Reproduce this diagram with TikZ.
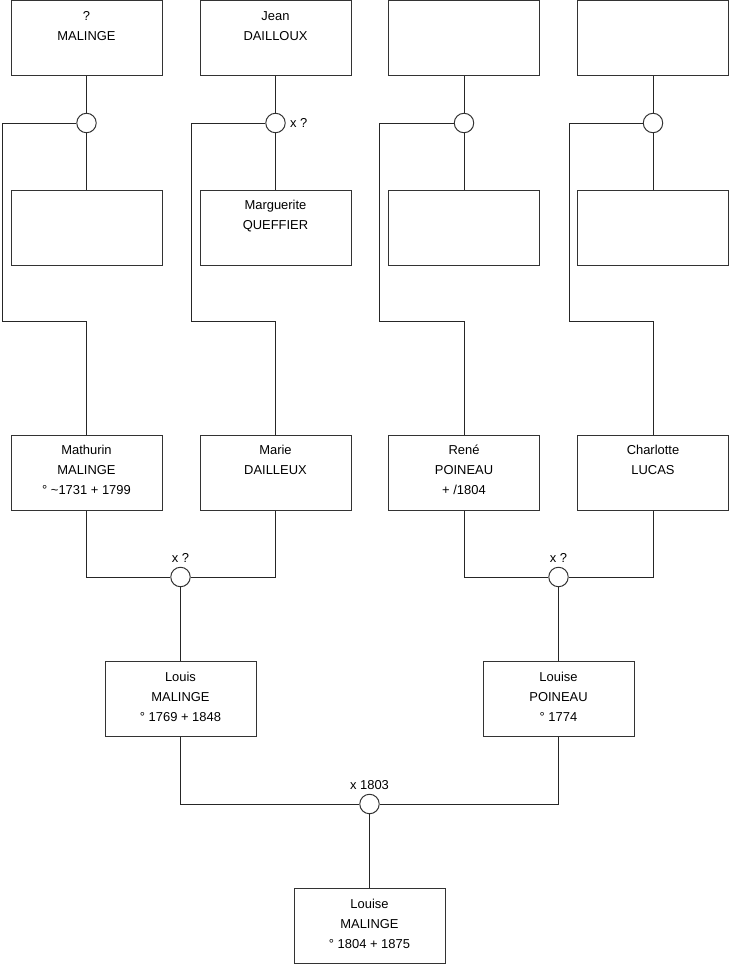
\documentclass[tikz,border=0pt]{standalone}
\usepackage{fontspec}
\setmainfont{Liberation Sans}
\usetikzlibrary{positioning}
\newcommand{\who}[3]{#1\strut\\#2\strut\\#3\rule[-7pt]{0pt}{7pt}}
\tikzset{
  pers/.style={draw=black!80, line width=0.75pt, minimum width=113.25pt,
               minimum height=56.25pt, inner sep=0pt, align=center,
               font=\fontsize{9.7}{15}\selectfont},
  wed/.style={draw=black!80, circle, fill=white, minimum size=14.6pt,
              inner sep=0pt, line width=0.75pt},
  wednote/.style={font=\fontsize{9.7}{11}\selectfont, inner sep=1pt},
  link/.style={line width=0.75pt, black!85}
}

\begin{document}
\begin{tikzpicture}[x=0.75pt, y=-0.75pt]
\useasboundingbox (0,0) rectangle (740,975);
\node[pers] (malinge) at (86.5,38) {\who{?}{MALINGE}{}};
\node[pers] (jean) at (275.5,38) {\who{Jean}{DAILLOUX}{}};
\node[pers] (top3) at (464,38) {};
\node[pers] (top4) at (653,38) {};
\node[wed] (m1) at (86.5,123) {};
\node[wed] (m2) at (275.5,123) {};
\node[wed] (m3) at (464,123) {};
\node[wed] (m4) at (653,123) {};
\node[wednote, right=2pt of m2] (n2) {x ?};
\node[pers] (unk1) at (86.5,227.5) {};
\node[pers] (marguerite) at (275.5,227.5) {\who{Marguerite}{QUEFFIER}{}};
\node[pers] (unk3) at (464,227.5) {};
\node[pers] (unk4) at (653,227.5) {};
\coordinate (k1) at (2,321);
\coordinate (k2) at (191,321);
\coordinate (k3) at (379,321);
\coordinate (k4) at (569,321);
\node[pers] (mathurin) at (86.5,472.5) {\who{Mathurin}{MALINGE}{° \textasciitilde1731 + 1799}};
\node[pers] (marie) at (275.5,472.5) {\who{Marie}{DAILLEUX}{}};
\node[pers] (rene) at (464,472.5) {\who{René}{POINEAU}{+ /1804}};
\node[pers] (charlotte) at (653,472.5) {\who{Charlotte}{LUCAS}{}};
\node[wed] (m5) at (180.5,577) {};
\node[wed] (m6) at (558.5,577) {};
\node[wednote, above=2pt of m5] (n5) {x ?};
\node[wednote, above=2pt of m6] (n6) {x ?};
\node[pers] (louis) at (180.5,699) {\who{Louis}{MALINGE}{° 1769 + 1848}};
\node[pers] (louiseP) at (558.5,699) {\who{Louise}{POINEAU}{° 1774}};
\node[wed] (m7) at (369.5,804) {};
\node[wednote, above=2pt of m7] (n7) {x 1803};
\node[pers] (louiseM) at (369.5,926) {\who{Louise}{MALINGE}{° 1804 + 1875}};
\draw[link] (malinge) -- (m1);
\draw[link] (m1) -- (unk1);
\draw[link] (jean) -- (m2);
\draw[link] (m2) -- (marguerite);
\draw[link] (top3) -- (m3);
\draw[link] (m3) -- (unk3);
\draw[link] (top4) -- (m4);
\draw[link] (m4) -- (unk4);
\draw[link] (m1) -| (k1) -| (mathurin);
\draw[link] (m2) -| (k2) -| (marie);
\draw[link] (m3) -| (k3) -| (rene);
\draw[link] (m4) -| (k4) -| (charlotte);
\draw[link] (mathurin) |- (m5);
\draw[link] (marie) |- (m5);
\draw[link] (m5) -- (louis);
\draw[link] (rene) |- (m6);
\draw[link] (charlotte) |- (m6);
\draw[link] (m6) -- (louiseP);
\draw[link] (louis) |- (m7);
\draw[link] (louiseP) |- (m7);
\draw[link] (m7) -- (louiseM);
\end{tikzpicture}
\end{document}
